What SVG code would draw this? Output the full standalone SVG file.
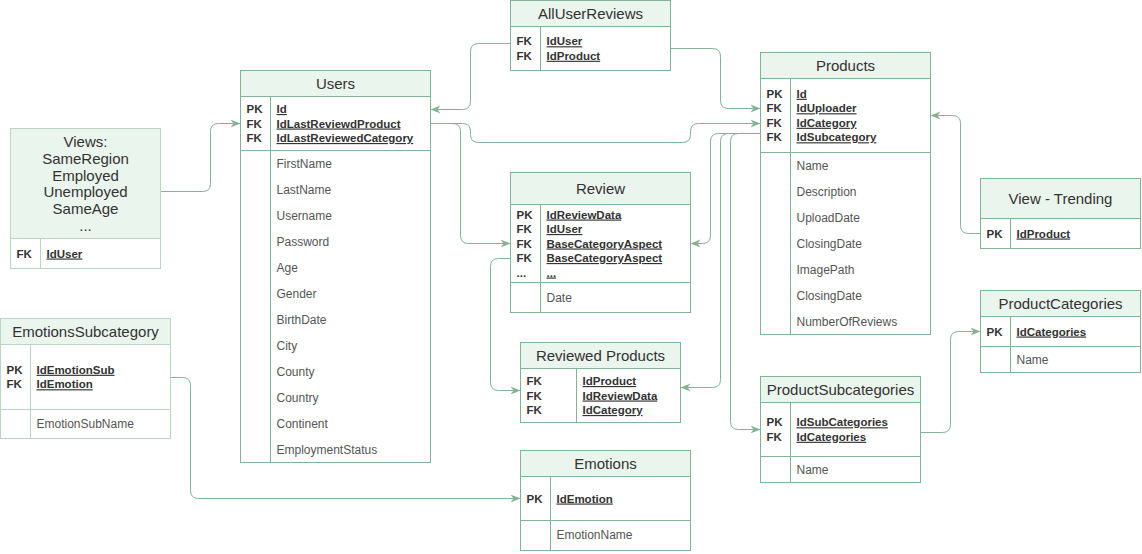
<svg xmlns="http://www.w3.org/2000/svg" width="1142" height="554" viewBox="0 0 1142 554">
  <defs>
    <style>
      .box { fill: #ffffff; stroke: #82b394; stroke-width: 1; }
      .box.pale { stroke: #b8d6c2; }
      .hdr { fill: #eaf5ed; stroke: #82b394; stroke-width: 1; }
      .hdr.pale { stroke: #b8d6c2; }
      .sep { stroke: #82b394; stroke-width: 1; fill: none; }
      .sep.pale { stroke: #b8d6c2; }
      .title { font-family: "Liberation Sans", Arial, sans-serif; font-size: 15px; fill: #333333; text-anchor: middle; }
      .key { font-family: "Liberation Sans", Arial, sans-serif; font-size: 11.5px; font-weight: bold; fill: #333333; }
      .pk { font-family: "Liberation Sans", Arial, sans-serif; font-size: 11.5px; font-weight: bold; fill: #333333; text-decoration: underline; }
      .fld { font-family: "Liberation Sans", Arial, sans-serif; font-size: 12px; fill: #555555; }
      .link { fill: none; stroke: #82b394; stroke-width: 1; }
    </style>
    <marker id="arrow" markerUnits="userSpaceOnUse" markerWidth="11" markerHeight="9" refX="10" refY="4.5" orient="auto">
      <path d="M0,0.5 L10,4.5 L0,8.5 L3,4.5 Z" fill="#82b394"/>
    </marker>
  </defs>

  <g transform="translate(0.5,0.5)">
    <!-- relations -->
    <g id="connectors">
      <path class="link" marker-end="url(#arrow)" d="M160,191 H202 Q210,191 210,183 V131 Q210,123 218,123 H240"/>
      <path class="link" marker-end="url(#arrow)" d="M510,43 H478 Q470,43 470,51 V101 Q470,109 462,109 H430"/>
      <path class="link" marker-end="url(#arrow)" d="M670,48 H712 Q720,48 720,56 V100 Q720,108 728,108 H760"/>
      <path class="link" marker-end="url(#arrow)" d="M430,123 H462 Q470,123 470,131 V134 Q470,142 478,142 H682 Q690,142 690,134 V131 Q690,123 698,123 H760"/>
      <path class="link" marker-end="url(#arrow)" d="M430,123 H452 Q460,123 460,131 V235 Q460,243 468,243 H510"/>
      <path class="link" marker-end="url(#arrow)" d="M760,133 H718 Q710,133 710,141 V235 Q710,243 702,243 H690"/>
      <path class="link" marker-end="url(#arrow)" d="M760,133 H728 Q720,133 720,141 V379 Q720,387 712,387 H680"/>
      <path class="link" marker-end="url(#arrow)" d="M760,133 H738 Q730,133 730,141 V421 Q730,429 738,429 H760"/>
      <path class="link" marker-end="url(#arrow)" d="M980,233 H968 Q960,233 960,225 V123 Q960,115 952,115 H930"/>
      <path class="link" marker-end="url(#arrow)" d="M920,432 H942 Q950,432 950,424 V339 Q950,331 958,331 H980"/>
      <path class="link" marker-end="url(#arrow)" d="M510,258 H498 Q490,258 490,266 V382 Q490,390 498,390 H520"/>
      <path class="link" marker-end="url(#arrow)" d="M170,377 H182 Q190,377 190,385 V490 Q190,498 198,498 H520"/>
    </g>

    <!-- Views -->
    <g id="views">
      <rect class="box pale" x="10" y="128" width="150" height="140"/>
      <rect class="hdr pale" x="10" y="128" width="150" height="110"/>
      <line class="sep pale" x1="40" y1="238" x2="40" y2="268"/>
      <text class="title" x="85" y="146.7">Views:</text>
      <text class="title" x="85" y="163.3">SameRegion</text>
      <text class="title" x="85" y="180">Employed</text>
      <text class="title" x="85" y="196.7">Unemployed</text>
      <text class="title" x="85" y="213.3">SameAge</text>
      <text class="title" x="85" y="230">...</text>
      <text class="key" x="16" y="257">FK</text>
      <text class="pk" x="46" y="257">IdUser</text>
    </g>

    <!-- Users -->
    <g id="users">
      <rect class="box" x="240" y="70" width="190" height="392"/>
      <rect class="hdr" x="240" y="70" width="190" height="26"/>
      <line class="sep" x1="240" y1="150" x2="430" y2="150"/>
      <line class="sep" x1="270" y1="96" x2="270" y2="462"/>
      <text class="title" x="335" y="88">Users</text>
      <text class="key" x="246" y="112.5">PK</text>
      <text class="key" x="246" y="127">FK</text>
      <text class="key" x="246" y="141.5">FK</text>
      <text class="pk" x="276" y="112.5">Id</text>
      <text class="pk" x="276" y="127">IdLastReviewdProduct</text>
      <text class="pk" x="276" y="141.5">IdLastReviewedCategory</text>
      <text class="fld" x="276" y="167">FirstName</text>
      <text class="fld" x="276" y="193">LastName</text>
      <text class="fld" x="276" y="219">Username</text>
      <text class="fld" x="276" y="245">Password</text>
      <text class="fld" x="276" y="271">Age</text>
      <text class="fld" x="276" y="297">Gender</text>
      <text class="fld" x="276" y="323">BirthDate</text>
      <text class="fld" x="276" y="349">City</text>
      <text class="fld" x="276" y="375">County</text>
      <text class="fld" x="276" y="401">Country</text>
      <text class="fld" x="276" y="427">Continent</text>
      <text class="fld" x="276" y="453">EmploymentStatus</text>
    </g>

    <!-- AllUserReviews -->
    <g id="all-user-reviews">
      <rect class="box" x="510" y="0" width="160" height="70"/>
      <rect class="hdr" x="510" y="0" width="160" height="26"/>
      <line class="sep" x1="540" y1="26" x2="540" y2="70"/>
      <text class="title" x="590" y="18">AllUserReviews</text>
      <text class="key" x="516" y="44.75">FK</text>
      <text class="key" x="516" y="59.25">FK</text>
      <text class="pk" x="546" y="44.75">IdUser</text>
      <text class="pk" x="546" y="59.25">IdProduct</text>
    </g>

    <!-- Review -->
    <g id="review">
      <rect class="box" x="510" y="172" width="180" height="140"/>
      <rect class="hdr" x="510" y="172" width="180" height="32"/>
      <line class="sep" x1="510" y1="282" x2="690" y2="282"/>
      <line class="sep" x1="540" y1="204" x2="540" y2="312"/>
      <text class="title" x="600" y="193">Review</text>
      <text class="key" x="516" y="218">PK</text>
      <text class="key" x="516" y="232.5">FK</text>
      <text class="key" x="516" y="247">FK</text>
      <text class="key" x="516" y="261.5">FK</text>
      <text class="key" x="516" y="276">...</text>
      <text class="pk" x="546" y="218">IdReviewData</text>
      <text class="pk" x="546" y="232.5">IdUser</text>
      <text class="pk" x="546" y="247">BaseCategoryAspect</text>
      <text class="pk" x="546" y="261.5">BaseCategoryAspect</text>
      <text class="pk" x="546" y="276">...</text>
      <text class="fld" x="546" y="301">Date</text>
    </g>

    <!-- Reviewed Products -->
    <g id="reviewed-products">
      <rect class="box" x="520" y="342" width="160" height="80"/>
      <rect class="hdr" x="520" y="342" width="160" height="26"/>
      <line class="sep" x1="576" y1="368" x2="576" y2="422"/>
      <text class="title" x="600" y="360">Reviewed Products</text>
      <text class="key" x="526" y="384.5">FK</text>
      <text class="key" x="526" y="399">FK</text>
      <text class="key" x="526" y="413.5">FK</text>
      <text class="pk" x="582" y="384.5">IdProduct</text>
      <text class="pk" x="582" y="399">IdReviewData</text>
      <text class="pk" x="582" y="413.5">IdCategory</text>
    </g>

    <!-- Products -->
    <g id="products">
      <rect class="box" x="760" y="52" width="170" height="282"/>
      <rect class="hdr" x="760" y="52" width="170" height="26"/>
      <line class="sep" x1="760" y1="152" x2="930" y2="152"/>
      <line class="sep" x1="790" y1="78" x2="790" y2="334"/>
      <text class="title" x="845" y="70">Products</text>
      <text class="key" x="766" y="97.25">PK</text>
      <text class="key" x="766" y="111.75">FK</text>
      <text class="key" x="766" y="126.25">FK</text>
      <text class="key" x="766" y="140.75">FK</text>
      <text class="pk" x="796" y="97.25">Id</text>
      <text class="pk" x="796" y="111.75">IdUploader</text>
      <text class="pk" x="796" y="126.25">IdCategory</text>
      <text class="pk" x="796" y="140.75">IdSubcategory</text>
      <text class="fld" x="796" y="169.5">Name</text>
      <text class="fld" x="796" y="195.5">Description</text>
      <text class="fld" x="796" y="221.5">UploadDate</text>
      <text class="fld" x="796" y="247.5">ClosingDate</text>
      <text class="fld" x="796" y="273.5">ImagePath</text>
      <text class="fld" x="796" y="299.5">ClosingDate</text>
      <text class="fld" x="796" y="325.5">NumberOfReviews</text>
    </g>

    <!-- View - Trending -->
    <g id="view-trending">
      <rect class="box" x="980" y="178" width="160" height="70"/>
      <rect class="hdr" x="980" y="178" width="160" height="40"/>
      <line class="sep" x1="1010" y1="218" x2="1010" y2="248"/>
      <text class="title" x="1060" y="203">View - Trending</text>
      <text class="key" x="986" y="237">PK</text>
      <text class="pk" x="1016" y="237">IdProduct</text>
    </g>

    <!-- ProductCategories -->
    <g id="product-categories">
      <rect class="box" x="980" y="290" width="160" height="82"/>
      <rect class="hdr" x="980" y="290" width="160" height="26"/>
      <line class="sep" x1="980" y1="346" x2="1140" y2="346"/>
      <line class="sep" x1="1010" y1="316" x2="1010" y2="372"/>
      <text class="title" x="1060" y="308">ProductCategories</text>
      <text class="key" x="986" y="335">PK</text>
      <text class="pk" x="1016" y="335">IdCategories</text>
      <text class="fld" x="1016" y="363">Name</text>
    </g>

    <!-- ProductSubcategories -->
    <g id="product-subcategories">
      <rect class="box" x="760" y="376" width="160" height="106"/>
      <rect class="hdr" x="760" y="376" width="160" height="26"/>
      <line class="sep" x1="760" y1="456" x2="920" y2="456"/>
      <line class="sep" x1="790" y1="402" x2="790" y2="482"/>
      <text class="title" x="840" y="394">ProductSubcategories</text>
      <text class="key" x="766" y="425.75">PK</text>
      <text class="key" x="766" y="440.25">FK</text>
      <text class="pk" x="796" y="425.75">IdSubCategories</text>
      <text class="pk" x="796" y="440.25">IdCategories</text>
      <text class="fld" x="796" y="473">Name</text>
    </g>

    <!-- Emotions -->
    <g id="emotions">
      <rect class="box" x="520" y="450" width="170" height="100"/>
      <rect class="hdr" x="520" y="450" width="170" height="26"/>
      <line class="sep" x1="520" y1="520" x2="690" y2="520"/>
      <line class="sep" x1="550" y1="476" x2="550" y2="550"/>
      <text class="title" x="605" y="468">Emotions</text>
      <text class="key" x="526" y="502">PK</text>
      <text class="pk" x="556" y="502">IdEmotion</text>
      <text class="fld" x="556" y="538.5">EmotionName</text>
    </g>

    <!-- EmotionsSubcategory -->
    <g id="emotions-subcategory">
      <rect class="box pale" x="0" y="318" width="170" height="120"/>
      <rect class="hdr pale" x="0" y="318" width="170" height="26"/>
      <line class="sep pale" x1="0" y1="409" x2="170" y2="409"/>
      <line class="sep pale" x1="30" y1="344" x2="30" y2="438"/>
      <text class="title" x="85" y="336">EmotionsSubcategory</text>
      <text class="key" x="6" y="373.25">PK</text>
      <text class="key" x="6" y="387.75">FK</text>
      <text class="pk" x="36" y="373.25">IdEmotionSub</text>
      <text class="pk" x="36" y="387.75">IdEmotion</text>
      <text class="fld" x="36" y="427.5">EmotionSubName</text>
    </g>
  </g>
</svg>
